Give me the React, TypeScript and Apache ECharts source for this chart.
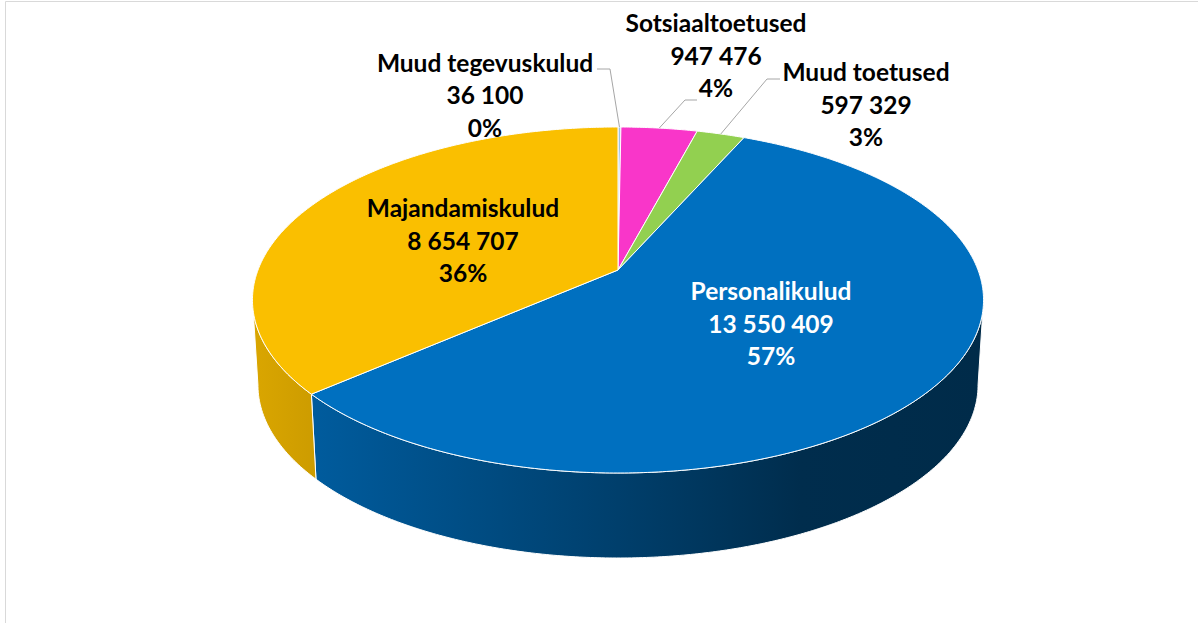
import React, { useEffect, useRef } from "react";
import * as echarts from "echarts";

// ---- data ----
const categories = ["Muud tegevuskulud", "Sotsiaaltoetused", "Muud toetused", "Personalikulud", "Majandamiskulud"];
const values = [36100, 947476, 597329, 13550409, 8654707];
const topColors = ["#9DC3E6", "#F936C9", "#92D050", "#0070C0", "#FABF00"];

// ---- layout (not data) ----
const CX = 618;
const CY = 270;
const RA = 360; // horizontal scale
const RB = 167.8; // vertical scale
const K = 0.1734; // perspective factor
const DEPTH = 85;
const BOTTOM_SCALE = 0.985;
const LABEL_FONT = "Lato";
const LABEL_SIZE = 24.5;
const LABEL_LH = 32.5;
const labelLayout = [
  { x: 485, y: 94.5, color: "#000000", leader: [[597, 69], [610, 69]] },
  { x: 716, y: 55, color: "#000000", leader: [[697, 100], [685, 100]] },
  { x: 866, y: 104, color: "#000000", leader: [[780, 79], [767, 79]] },
  { x: 771, y: 323, color: "#FFFFFF", leader: null },
  { x: 463, y: 240, color: "#000000", leader: null },
];

const total = values.reduce((a, b) => a + b, 0);
const cumStart: number[] = [];
values.reduce((acc, v, i) => {
  cumStart[i] = acc;
  return acc + v;
}, 0);

function proj(phiDeg: number, bottom = false): number[] {
  const p = (phiDeg * Math.PI) / 180;
  const u = Math.sin(p);
  const v = -Math.cos(p);
  const d = 1 - K * v;
  let sx = (RA * u) / d;
  let sy = (RB * v) / d;
  if (bottom) {
    sx *= BOTTOM_SCALE;
    sy += DEPTH;
  }
  return [CX + sx, CY + sy];
}

function arc(a0: number, a1: number, bottom = false): number[][] {
  const pts: number[][] = [];
  const n = Math.max(2, Math.ceil(Math.abs(a1 - a0) / 0.5));
  for (let j = 0; j <= n; j++) pts.push(proj(a0 + ((a1 - a0) * j) / n, bottom));
  return pts;
}

function shade(hex: string, f: number): string {
  const r = parseInt(hex.slice(1, 3), 16);
  const g = parseInt(hex.slice(3, 5), 16);
  const b = parseInt(hex.slice(5, 7), 16);
  const c = (x: number) => Math.max(0, Math.min(255, Math.round(x * f)));
  return `rgb(${c(r)},${c(g)},${c(b)})`;
}

function fmt(n: number): string {
  return String(n).replace(/\B(?=(\d{3})+(?!\d))/g, " ");
}

const SIDE_FROM = 180 - (Math.acos(K) * 180) / Math.PI; // ~100
const SIDE_TO = 180 + (Math.acos(K) * 180) / Math.PI; // ~260

export default function App() {
  const ref = useRef<HTMLDivElement>(null);
  useEffect(() => {
    if (!ref.current) return;
    const chart = echarts.init(ref.current, null, { renderer: "svg" });
    const left = CX - RA / Math.sqrt(1 - K * K);
    const right = CX + RA / Math.sqrt(1 - K * K);
    chart.setOption({
      animation: false,
      backgroundColor: "#FFFFFF",
      graphic: [
        {
          type: "rect",
          shape: { x: 5.5, y: 1.5, width: 1300, height: 800 },
          style: { fill: "none", stroke: "#D9D9D9", lineWidth: 1 },
          silent: true,
        },
      ],
      series: [
        {
          type: "custom",
          coordinateSystem: "none",
          data: values.map((v, i) => ({ name: categories[i], value: v })),
          renderItem: (params: any, api: any) => {
            const i = params.dataIndex;
            const val = api.value(0);
            const a0 = (cumStart[i] / total) * 360;
            const a1 = a0 + (val / total) * 360;
            const color = topColors[i];
            const children: any[] = [];
            // side wall
            const s = Math.max(a0, SIDE_FROM);
            const e = Math.min(a1, SIDE_TO);
            if (e > s) {
              const topPts = arc(s, e);
              const botPts = arc(e, s, true);
              children.push({
                type: "polygon",
                shape: { points: topPts.concat(botPts) },
                style: {
                  fill: {
                    type: "linear",
                    x: left,
                    y: 0,
                    x2: right,
                    y2: 0,
                    global: true,
                    colorStops: [
                      { offset: 0, color: shade(color, 0.87) },
                      { offset: 0.5, color: shade(color, 0.56) },
                      { offset: 0.75, color: shade(color, 0.4) },
                      { offset: 1, color: shade(color, 0.38) },
                    ],
                  },
                  stroke: "#FFFFFF",
                  lineWidth: 1,
                },
                z2: 1,
              });
            }
            // top face
            children.push({
              type: "polygon",
              shape: { points: [[CX, CY]].concat(arc(a0, a1)) },
              style: { fill: color, stroke: "#FFFFFF", lineWidth: 1, lineJoin: "round" },
              z2: 2,
            });
            // label
            const lay = labelLayout[i];
            const pct = Math.round((val / total) * 100);
            children.push({
              type: "text",
              x: lay.x,
              y: lay.y,
              style: {
                text: `${categories[i]}\n${fmt(val)}\n${pct}%`,
                fill: lay.color,
                fontSize: LABEL_SIZE,
                fontWeight: "bold",
                fontFamily: LABEL_FONT,
                align: "center",
                verticalAlign: "middle",
                lineHeight: LABEL_LH,
              },
              z2: 20,
            });
            if (lay.leader) {
              const mid = proj((a0 + a1) / 2);
              children.push({
                type: "polyline",
                shape: { points: lay.leader.concat([mid]) },
                style: { stroke: "#A6A6A6", lineWidth: 1, fill: null },
                z2: 19,
              });
            }
            return { type: "group", children };
          },
        },
      ],
    });
    return () => chart.dispose();
  }, []);
  return (
    <div
      ref={ref}
      style={{ position: "fixed", left: 0, top: 0, width: 1198, height: 623 }}
    />
  );
}
